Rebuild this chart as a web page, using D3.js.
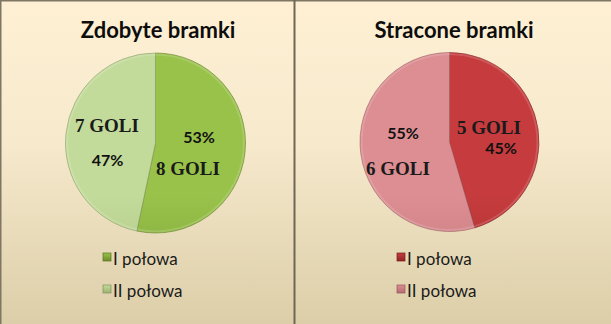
<!DOCTYPE html>
<html><head><meta charset="utf-8">
<script src="https://cdn.jsdelivr.net/npm/d3@7"></script>
<style>html,body{margin:0;padding:0;background:#fff;}svg{display:block;}</style>
</head><body><svg id="c" width="611" height="324"></svg>
<script>
// ---- data ----
const categories = ["I połowa", "II połowa"];
const titles = ["Zdobyte bramki", "Stracone bramki"];
const scoredValues = [8, 7];
const concededValues = [5, 6];
const goalLabels = [["8 GOLI", "7 GOLI"], ["5 GOLI", "6 GOLI"]];

// ---- layout / styles ----
const W = 611, H = 324;
const svg = d3.select("#c");
const defs = svg.append("defs");

const bg = defs.append("linearGradient").attr("id", "bg").attr("x1", 0).attr("y1", 0).attr("x2", 0).attr("y2", 1);
bg.append("stop").attr("offset", "0%").attr("stop-color", "#fff0d4");
bg.append("stop").attr("offset", "45%").attr("stop-color", "#f6e9cc");
bg.append("stop").attr("offset", "100%").attr("stop-color", "#dccea8");
svg.append("rect").attr("width", W).attr("height", H).attr("fill", "url(#bg)");

const panels = [
  { values: scoredValues, cx: 155.5, cy: 143, r: 90, titleX: 158,
    colors: [["#99c24b", "#6a8e28"], ["#c3db9a", "#9cb372"]],
    legendX: 103,
    pctOff: [[43.5, 0], [-48, 23]], golOff: [[32.5, 32], [-48.5, -11]] },
  { values: concededValues, cx: 449.5, cy: 142, r: 89.5, titleX: 454,
    colors: [["#c63c3e", "#922526"], ["#dc8e92", "#b66a70"]],
    legendX: 397,
    pctOff: [[51.5, 12], [-46.5, -3]], golOff: [[39.5, -8], [-51.5, 33]] }
];

const pie = d3.pie().sort(null).value(d => d);

panels.forEach((p, pi) => {
  const g = svg.append("g");
  // title
  g.append("text").attr("x", p.titleX).attr("y", 38).attr("text-anchor", "middle")
    .attr("font-family", "Lato, 'Open Sans', sans-serif").attr("font-weight", "bold")
    .attr("font-size", 22).attr("fill", "#0d0d0d").text(titles[pi]);

  // gradients per slice
  p.colors.forEach((c, ci) => {
    const lg = defs.append("linearGradient").attr("id", `g${pi}_${ci}`)
      .attr("gradientUnits", "userSpaceOnUse")
      .attr("x1", 0).attr("y1", p.cy - p.r).attr("x2", 0).attr("y2", p.cy + p.r);
    lg.append("stop").attr("offset", "0%").attr("stop-color", c[0]);
    lg.append("stop").attr("offset", "100%").attr("stop-color", c[1]);
  });

  const arcs = pie(p.values);
  const arc = d3.arc().innerRadius(0).outerRadius(p.r);
  const total = d3.sum(p.values);
  const pg = g.append("g").attr("transform", `translate(${p.cx},${p.cy})`);

  pg.selectAll("path.slice").data(arcs).join("path").attr("class", "slice")
    .attr("d", arc)
    .attr("fill", (d, i) => `url(#g${pi}_${i})`)
    .attr("stroke", (d, i) => d3.color(p.colors[i][1]).darker(0.5))
    .attr("stroke-opacity", 0.55)
    .attr("stroke-width", 1);

  // bevel highlight ring
  pg.append("circle").attr("r", p.r - 1.5).attr("fill", "none")
    .attr("stroke", "#ffffff").attr("stroke-opacity", 0.15).attr("stroke-width", 2);

  // labels
  arcs.forEach((a, i) => {
    const pct = Math.round(a.data / total * 100) + "%";
    pg.append("text").attr("x", p.pctOff[i][0]).attr("y", p.pctOff[i][1])
      .attr("text-anchor", "middle")
      .attr("font-family", "Lato, 'Open Sans', sans-serif").attr("font-weight", "bold")
      .attr("font-size", 16).attr("fill", "#111").text(pct);
    pg.append("text").attr("x", p.golOff[i][0]).attr("y", p.golOff[i][1])
      .attr("text-anchor", "middle")
      .attr("font-family", "'Liberation Serif', 'DejaVu Serif', serif").attr("font-weight", "bold")
      .attr("font-size", 19).attr("fill", "#1a1a1a").text(goalLabels[pi][i]);
  });

  // legend
  categories.forEach((cat, i) => {
    const y = 252 + i * 32;
    const lg = defs.append("linearGradient").attr("id", `lg${pi}_${i}`).attr("x1", 0).attr("y1", 0).attr("x2", 0).attr("y2", 1);
    lg.append("stop").attr("offset", "0%").attr("stop-color", p.colors[i][0]);
    lg.append("stop").attr("offset", "100%").attr("stop-color", p.colors[i][1]);
    g.append("rect").attr("x", p.legendX).attr("y", y + 1).attr("width", 8).attr("height", 8)
      .attr("fill", `url(#lg${pi}_${i})`)
      .attr("stroke", d3.color(p.colors[i][1]).darker(0.6)).attr("stroke-width", 0.7);
    g.append("text").attr("x", p.legendX + 10).attr("y", y + 13)
      .attr("font-family", "Lato, 'Open Sans', sans-serif").attr("font-size", 17)
      .attr("fill", "#1a1a1a").text(cat);
  });
});

// frame lines
svg.append("line").attr("x1", 0).attr("x2", W).attr("y1", 0.75).attr("y2", 0.75)
  .attr("stroke", "#7f7664").attr("stroke-width", 1.5);
svg.append("line").attr("x1", 0.75).attr("x2", 0.75).attr("y1", 0).attr("y2", H)
  .attr("stroke", "#7f7664").attr("stroke-width", 1.5);
svg.append("line").attr("x1", 294.5).attr("x2", 294.5).attr("y1", 0).attr("y2", H)
  .attr("stroke", "#6f6654").attr("stroke-width", 2);
</script></body></html>
